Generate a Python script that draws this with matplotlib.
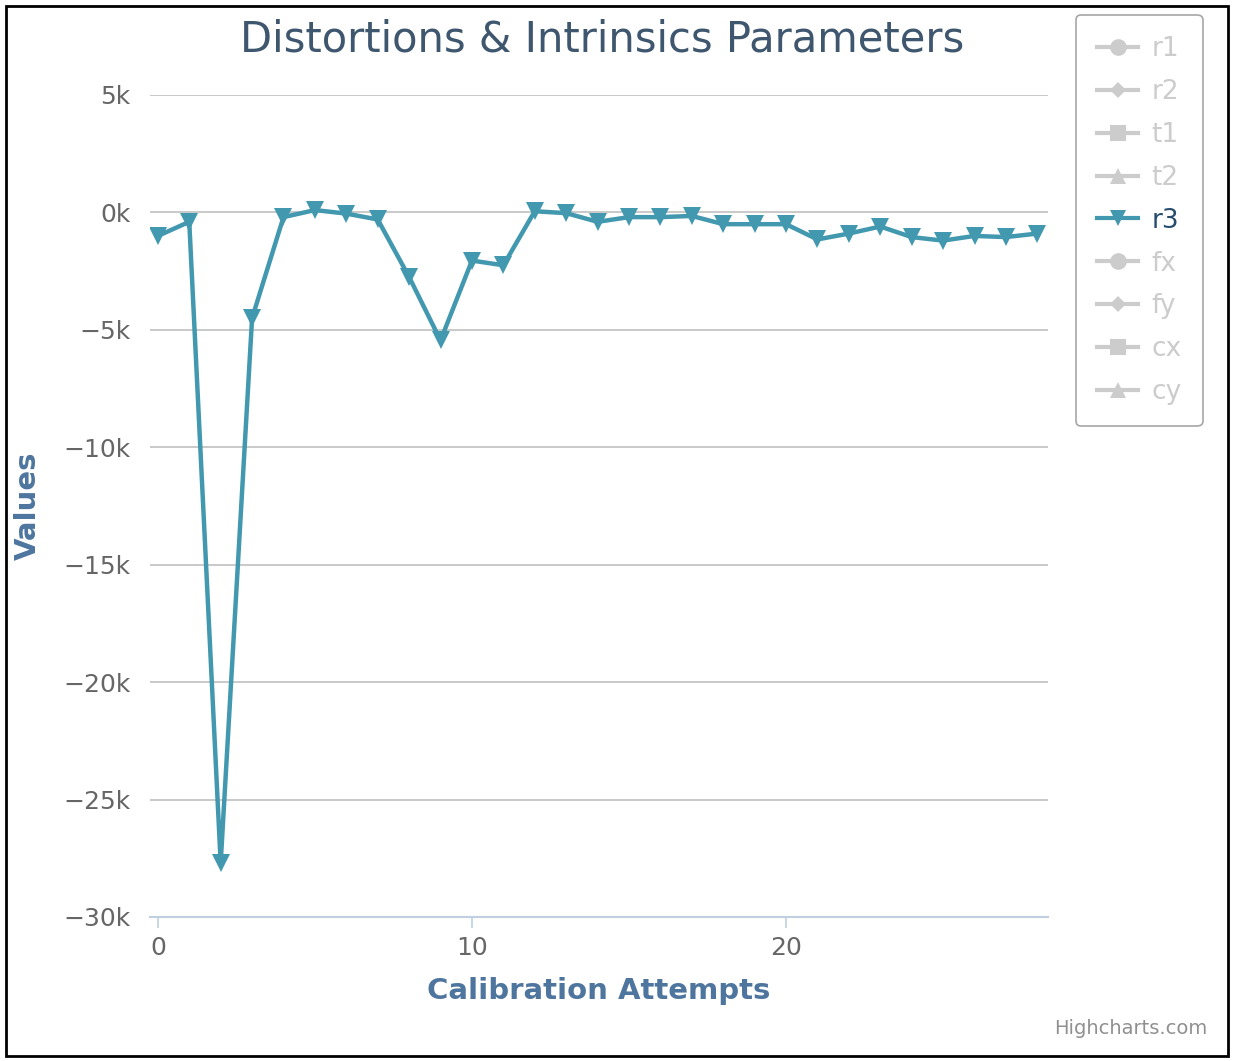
import matplotlib
matplotlib.use('Agg')
import matplotlib.pyplot as plt
from matplotlib.lines import Line2D
from matplotlib.patches import Rectangle
from matplotlib.ticker import FuncFormatter, MultipleLocator

# calibration attempt index and r3 values
attempts = list(range(29))
r3 = [-1000, -400, -27700, -4500, -200, 100, -50, -300, -2750, -5450,
      -2050, -2250, 50, -30, -400, -200, -200, -150, -500, -500,
      -500, -1150, -900, -600, -1050, -1200, -1000, -1050, -900]

legend_names = ['r1', 'r2', 't1', 't2', 'r3', 'fx', 'fy', 'cx', 'cy']
legend_markers = ['o', 'D', 's', '^', 'v', 'o', 'D', 's', '^']
visible = 'r3'

line_color = '#4198AF'
hidden_color = '#CCCCCC'

fig = plt.figure(figsize=(12.35, 10.61), dpi=100)
ax = fig.add_axes([150 / 1235, 1 - 917 / 1061, 898 / 1235, 822 / 1061])

ax.plot(attempts, r3, color=line_color, lw=3.2, marker='v', markersize=13,
        markeredgewidth=0, zorder=3)

ax.set_xlim(-0.25, 28.34)
ax.set_ylim(-30000, 5000)
ax.yaxis.set_major_locator(MultipleLocator(5000))
ax.xaxis.set_major_locator(MultipleLocator(10))
ax.yaxis.set_major_formatter(FuncFormatter(lambda v, p: f'{int(v / 1000)}k'.replace('-', '\u2212')))

ax.yaxis.grid(True, color='#C0C0C0', lw=1.2)
ax.set_axisbelow(True)
for side in ['top', 'right', 'left']:
    ax.spines[side].set_visible(False)
ax.spines['bottom'].set_color('#C0D0E0')
ax.spines['bottom'].set_linewidth(1.5)
ax.tick_params(axis='y', length=0, pad=14, labelsize=18, labelcolor='#666666')
ax.tick_params(axis='x', length=8, width=1.2, color='#C0D0E0', pad=6,
               labelsize=18, labelcolor='#666666')

ax.set_xlabel('Calibration Attempts', fontsize=21, fontweight='bold',
              color='#4D759E', labelpad=12)
ax.set_ylabel('Values', fontsize=21, fontweight='bold', color='#4D759E')
ax.yaxis.set_label_coords(-0.12, 0.5)

fig.text(602 / 1235, 1 - 39 / 1061, 'Distortions & Intrinsics Parameters',
         ha='center', va='center', fontsize=30, color='#3E576F')

handles = []
for name, m in zip(legend_names, legend_markers):
    c = line_color if name == visible else hidden_color
    handles.append(Line2D([], [], color=c, lw=3, marker=m, markersize=12 if m != 'D' else 8,
                          markeredgewidth=0))
leg = fig.legend(handles, legend_names, loc='upper left',
                 bbox_to_anchor=(1076 / 1235, 1 - 15 / 1061), fontsize=19,
                 frameon=True, fancybox=True, handlelength=1.55, handletextpad=0.5,
                 labelspacing=0.64, borderpad=0.8, borderaxespad=0)
leg.get_frame().set_edgecolor('#909090')
leg.get_frame().set_linewidth(1.2)
for t, name in zip(leg.get_texts(), legend_names):
    t.set_color('#274B6D' if name == visible else hidden_color)

fig.text(1207 / 1235, 1 - 1028 / 1061, 'Highcharts.com', ha='right', va='center',
         fontsize=14, color='#909090')

# outer border of the screenshot
fig.patches.append(Rectangle((6 / 1235, 5 / 1061), 1222 / 1235, 1050 / 1061,
                             transform=fig.transFigure, fill=False,
                             edgecolor='black', lw=2))

fig.savefig('out.png', dpi=100)
